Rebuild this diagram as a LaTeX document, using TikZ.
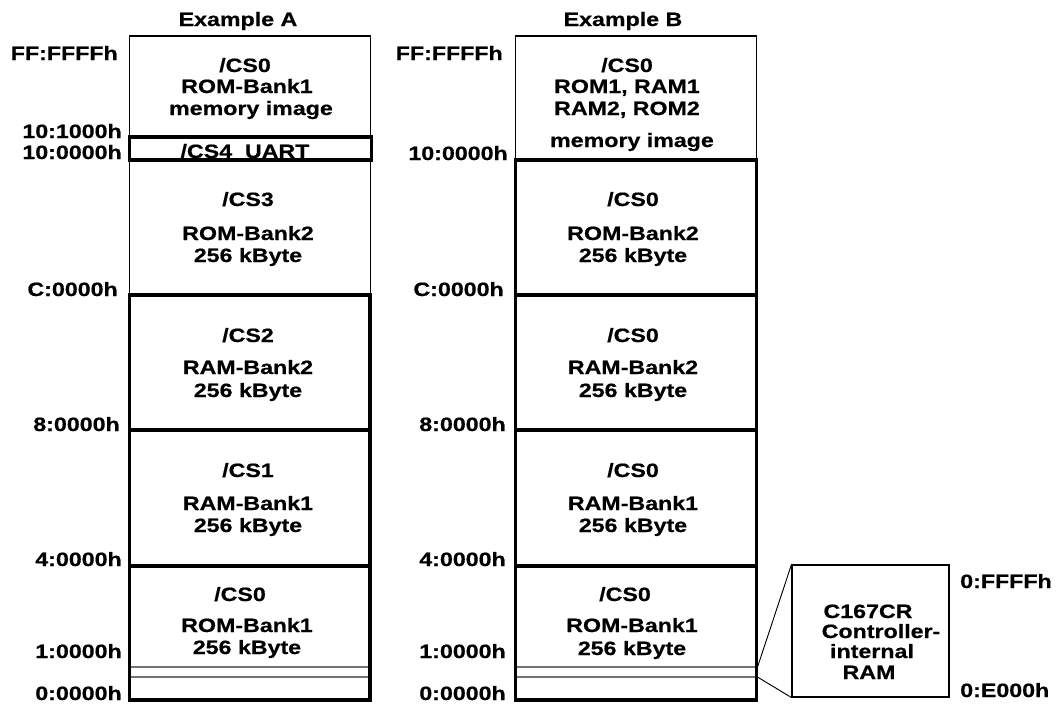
\documentclass[tikz,border=0pt]{standalone}
\usepackage{fontspec}
\setmainfont{Liberation Sans}[FakeStretch=1.2, BoldFeatures={FakeBold=0.6}]
\begin{document}
\begin{tikzpicture}[x=0.75pt,y=-0.75pt,
  txt/.style={font=\bfseries\fontsize{14.5}{16}\selectfont, inner sep=0pt, anchor=base},
  addr/.style={txt, anchor=base east},
  addrw/.style={txt, anchor=base west},
  thinbox/.style={draw, line width=0.8pt},
  thickbox/.style={draw, line width=2.3pt},
  grayline/.style={draw=black!55, line width=0.8pt},
  conn/.style={draw, line width=0.7pt}]
\useasboundingbox (0,0) rectangle (1056,704);

% ---------- Example A ----------
\node[txt] (ha) at (238,26) {Example A};
\node[addr] (aff) at (118,60) {FF:FFFFh};
\node[addr] (a101) at (122,138) {10:1000h};
\node[addr] (a100) at (122,159) {10:0000h};
\node[addr] (ac) at (118,296) {C:0000h};
\node[addr] (a8) at (120,431) {8:0000h};
\node[addr] (a4) at (122,566) {4:0000h};
\node[addr] (a1) at (122,658) {1:0000h};
\node[addr] (a0) at (122,700) {0:0000h};

\node[txt] (at1) at (245,72) {/CS0};
\node[txt] (at2) at (247,93) {ROM-Bank1};
\node[txt] (at3) at (251,115) {memory image};
\node[txt] (au) at (245,158) {/CS4\ \ UART};
\node[txt] (a3a) at (248,206) {/CS3};
\node[txt] (a3b) at (248,240) {ROM-Bank2};
\node[txt] (a3c) at (248,262) {256 kByte};
\node[txt] (a2a) at (248,342) {/CS2};
\node[txt] (a2b) at (248,374) {RAM-Bank2};
\node[txt] (a2c) at (248,397) {256 kByte};
\node[txt] (a1a) at (248,477) {/CS1};
\node[txt] (a1b) at (248,510) {RAM-Bank1};
\node[txt] (a1c) at (248,532) {256 kByte};
\node[txt] (a0a) at (240,601) {/CS0};
\node[txt] (a0b) at (247,632) {ROM-Bank1};
\node[txt] (a0c) at (247,654) {256 kByte};

\draw[thinbox] (129.5,36) rectangle (370.5,295);
\draw[grayline] (129.5,667) -- (370.5,667);
\draw[grayline] (129.5,677) -- (370.5,677);
\draw[thickbox] (129.5,137) rectangle (371.5,160);
\draw[thickbox] (129.5,295) rectangle (370,430);
\draw[thickbox] (129.5,430) rectangle (370,566);
\draw[thickbox] (129.5,566) rectangle (370,700);

% ---------- Example B ----------
\node[txt] (hb) at (623,26) {Example B};
\node[addr] (bff) at (503,60) {FF:FFFFh};
\node[addr] (b100) at (508,160) {10:0000h};
\node[addr] (bc) at (504,296) {C:0000h};
\node[addr] (b8) at (506,431) {8:0000h};
\node[addr] (b4) at (506,566) {4:0000h};
\node[addr] (b1) at (506,658) {1:0000h};
\node[addr] (b0) at (506,700) {0:0000h};

\node[txt] (bt1) at (627,72) {/CS0};
\node[txt] (bt2) at (627,93) {ROM1, RAM1};
\node[txt] (bt3) at (627,115) {RAM2, ROM2};
\node[txt] (bt4) at (632,147) {memory image};
\node[txt] (b3a) at (633,206) {/CS0};
\node[txt] (b3b) at (633,240) {ROM-Bank2};
\node[txt] (b3c) at (633,262) {256 kByte};
\node[txt] (b2a) at (633,342) {/CS0};
\node[txt] (b2b) at (633,374) {RAM-Bank2};
\node[txt] (b2c) at (633,397) {256 kByte};
\node[txt] (b1a) at (633,477) {/CS0};
\node[txt] (b1b) at (633,510) {RAM-Bank1};
\node[txt] (b1c) at (633,532) {256 kByte};
\node[txt] (b0a) at (625,601) {/CS0};
\node[txt] (b0b) at (632,632) {ROM-Bank1};
\node[txt] (b0c) at (632,655) {256 kByte};

\draw[thinbox] (515.5,36) rectangle (756.5,160);
\draw[grayline] (515.5,667) -- (756.5,667);
\draw[grayline] (515.5,677) -- (756.5,677);
\draw[thickbox] (515.5,160) rectangle (756.5,295);
\draw[thickbox] (515.5,295) rectangle (756.5,430);
\draw[thickbox] (515.5,430) rectangle (756.5,566);
\draw[thickbox] (515.5,566) rectangle (756.5,700);

% ---------- internal RAM ----------
\node[thinbox, minimum width=117.75pt, minimum height=99pt, inner sep=0pt] (ram) at (870.5,631) {};
\node[txt] (r1) at (868,618) {C167CR};
\node[txt] (r2) at (881,638) {Controller-};
\node[txt] (r3) at (872,658) {internal};
\node[txt] (r4) at (869,679) {RAM};
\node[addrw] (rff) at (960,588) {0:FFFFh};
\node[addrw] (re0) at (960,697) {0:E000h};

\coordinate (g1) at (757.5,667);
\coordinate (g2) at (757.5,677);
\draw[conn] (g1) -- (ram.north west);
\draw[conn] (g2) -- (ram.south west);
\end{tikzpicture}
\end{document}
